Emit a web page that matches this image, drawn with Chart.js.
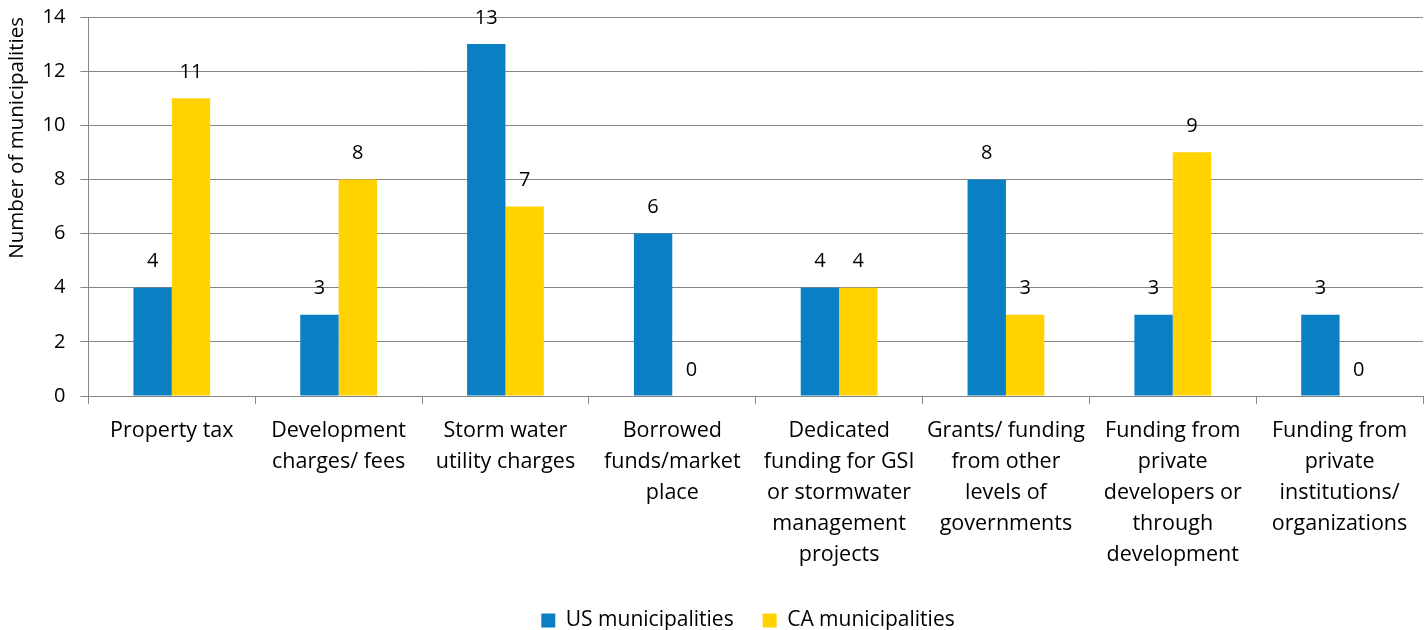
<!DOCTYPE html>
<html>
<head>
<meta charset="utf-8">
<script src="https://cdn.jsdelivr.net/npm/chart.js@4"></script>
<style>
  html, body { margin: 0; padding: 0; background: #fff; }
  #wrap { width: 1427px; height: 630px; position: relative; }
</style>
</head>
<body>
<div id="wrap"><canvas id="fundingChart"></canvas></div>
<script>
const categories = [
  ['Property tax'],
  ['Development', 'charges/ fees'],
  ['Storm water', 'utility charges'],
  ['Borrowed', 'funds/market', 'place'],
  ['Dedicated', 'funding for GSI', 'or stormwater', 'management', 'projects'],
  ['Grants/ funding', 'from other', 'levels of', 'governments'],
  ['Funding from', 'private', 'developers or', 'through', 'development'],
  ['Funding from', 'private', 'institutions/', 'organizations']
];
const usValues = [4, 3, 13, 6, 4, 8, 3, 3];
const caValues = [11, 8, 7, 0, 4, 3, 9, 0];
const yTicks = [0, 2, 4, 6, 8, 10, 12, 14];

const FONT = '"Open Sans", Lato, sans-serif';

// Werte über den Balken zeichnen
const valueLabels = {
  id: 'valueLabels',
  afterDatasetsDraw(chart) {
    const { ctx } = chart;
    ctx.save();
    ctx.font = '20px ' + FONT;
    ctx.fillStyle = '#000';
    ctx.textAlign = 'center';
    ctx.textBaseline = 'middle';
    chart.data.datasets.forEach((ds, i) => {
      chart.getDatasetMeta(i).data.forEach((bar, j) => {
        ctx.fillText(String(ds.data[j]), bar.x, bar.y - 26);
      });
    });
    ctx.restore();
  }
};

// Legende etwas nach rechts schieben (wie im Original)
const legendShift = {
  id: 'legendShift',
  afterLayout(chart) {
    if (!chart.legend) return;
    chart.legend.left += 33;
    chart.legend.right += 33;
  }
};

const ctx = document.getElementById('fundingChart');
new Chart(ctx, {
  type: 'bar',
  data: {
    labels: categories,
    datasets: [
      { label: 'US municipalities', data: usValues, backgroundColor: '#0A7FC4' },
      { label: 'CA municipalities', data: caValues, backgroundColor: '#FFD200' }
    ]
  },
  options: {
    responsive: true,
    maintainAspectRatio: false,
    animation: false,
    barPercentage: 1,
    categoryPercentage: 0.46,
    layout: { padding: { top: 17, right: 4, left: 7, bottom: -11 } },
    scales: {
      x: {
        grid: {
          drawOnChartArea: false,
          drawTicks: true,
          tickLength: 8,
          color: '#868686'
        },
        border: { color: '#868686' },
        ticks: {
          color: '#000',
          font: { family: FONT, size: 21.5, lineHeight: '31px' },
          maxRotation: 0,
          autoSkip: false,
          padding: 11
        }
      },
      y: {
        min: 0,
        max: 14,
        afterBuildTicks(axis) { axis.ticks = yTicks.map(v => ({ value: v })); },
        afterFit(axis) { axis.paddingTop = 0; axis.paddingBottom = 0; },
        grid: { color: '#868686', tickLength: 8 },
        border: { color: '#868686' },
        ticks: {
          color: '#000',
          font: { family: FONT, size: 20 },
          padding: 15
        },
        title: {
          display: true,
          text: 'Number of municipalities',
          align: 'end',
          color: '#000',
          font: { family: FONT, size: 20.5, lineHeight: 1 },
          padding: { top: 0, bottom: 0 }
        }
      }
    },
    plugins: {
      legend: {
        position: 'bottom',
        labels: {
          color: '#000',
          font: { family: FONT, size: 21 },
          boxWidth: 14,
          boxHeight: 14,
          padding: 29
        }
      },
      tooltip: { enabled: false }
    }
  },
  plugins: [valueLabels, legendShift]
});
</script>
</body>
</html>
